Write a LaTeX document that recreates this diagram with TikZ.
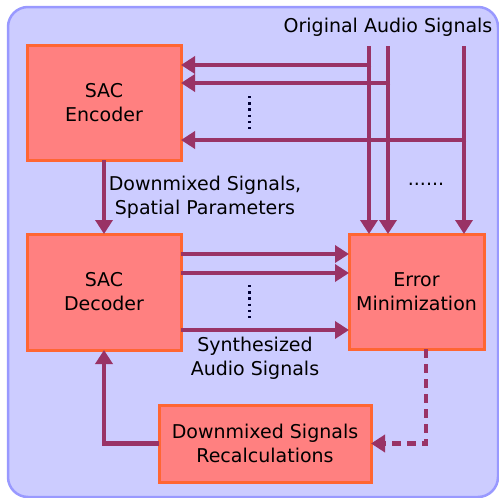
\documentclass[tikz,border=0pt]{standalone}
\usepackage{fontspec}
\setmainfont{DejaVu Sans}
\usetikzlibrary{arrows.meta}
\definecolor{bgfill}{HTML}{CCCCFF}
\definecolor{bgline}{HTML}{9999FF}
\definecolor{boxfill}{HTML}{FF8080}
\definecolor{boxline}{HTML}{FF6633}
\definecolor{arr}{HTML}{993366}
\begin{document}
\begin{tikzpicture}[x=1pt,y=-1pt,
  every node/.style={font=\fontsize{19}{24}\selectfont, inner sep=0pt, outer sep=0pt},
  blk/.style={draw=boxline, fill=boxfill, line width=3pt, align=center},
  flow/.style={draw=arr, line width=4.5pt, -{Triangle[length=14pt,width=17pt]}},
  dashflow/.style={flow, dash pattern=on 9pt off 6pt},
  vdots/.style={draw=black!80!blue, line width=2.6pt, dash pattern=on 2.4pt off 3.8pt},
  lbl/.style={align=center}]
\useasboundingbox (0,0) rectangle (499,498);
\draw[fill=bgfill, draw=bgline, line width=2.5pt, rounded corners=20pt] (8,7) rectangle (498,497);

\node[blk, minimum width=154pt, minimum height=115pt] (enc) at (104,102.5) {SAC\\Encoder};
\node[blk, minimum width=154pt, minimum height=116pt] (dec) at (104,292) {SAC\\Decoder};
\node[blk, minimum width=135pt, minimum height=115pt] (err) at (416.5,291.5) {Error\\Minimization};
\node[blk, minimum width=212pt, minimum height=77pt] (rec) at (265,443.5) {Downmixed Signals\\Recalculations};

\node (orig) at (388,27) {Original Audio Signals};
\node[lbl] (dsp) at (205,197) {Downmixed Signals,\\Spatial Parameters};
\node[lbl] (syn) at (255,358) {Synthesized\\Audio Signals};
\node[anchor=base] (hd) at (426,185) {......};

\coordinate (s1) at (369,46);
\coordinate (s2) at (388,46);
\coordinate (s3) at (464,46);
\coordinate (b1) at (369,65);
\coordinate (b2) at (388,83);
\coordinate (b3) at (464,140);

\draw[flow] (s1) -- (s1 |- err.north);
\draw[flow] (s2) -- (s2 |- err.north);
\draw[flow] (s3) -- (s3 |- err.north);
\draw[flow] ([xshift=2.25pt]b1) -- (enc.east |- b1);
\draw[flow] ([xshift=2.25pt]b2) -- (enc.east |- b2);
\draw[flow] ([xshift=2.25pt]b3) -- (enc.east |- b3);

\coordinate (v1a) at (249.5,96);
\coordinate (v1b) at (249.5,130);
\draw[vdots] (v1a) -- (v1b);

\draw[flow] (enc.south) -- (dec.north);

\coordinate (d1) at (181,254);
\coordinate (d2) at (181,273);
\coordinate (d3) at (181,330);
\draw[flow] (d1) -- (err.west |- d1);
\draw[flow] (d2) -- (err.west |- d2);
\draw[flow] (d3) -- (err.west |- d3);
\coordinate (v2a) at (249.5,285);
\coordinate (v2b) at (249.5,319);
\draw[vdots] (v2a) -- (v2b);

\coordinate (e1) at (426,349);
\coordinate (c1) at (426,443.5);
\draw[dashflow] (e1) -- (c1) -- (rec.east);

\draw[flow] (rec.west) -| (dec.south);
\end{tikzpicture}
\end{document}
